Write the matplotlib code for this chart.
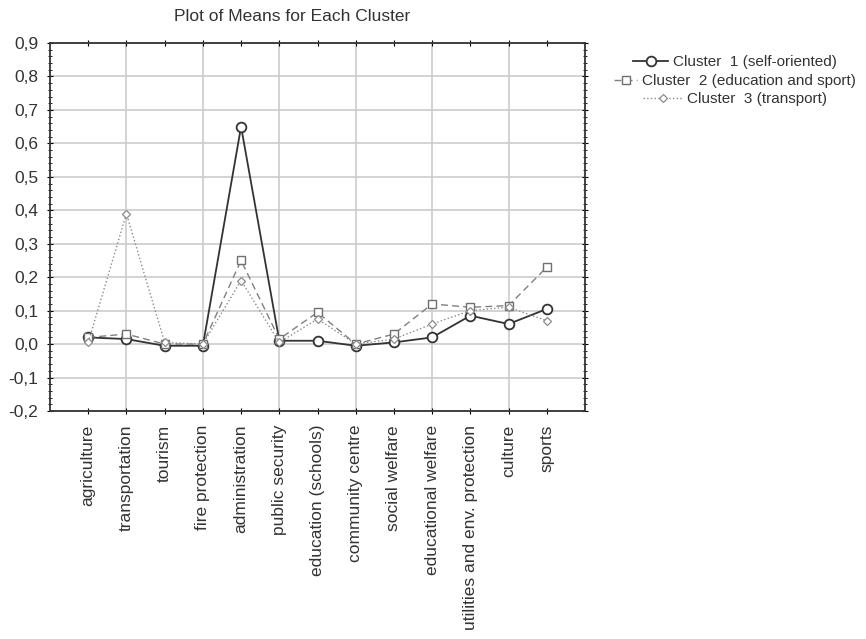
import matplotlib.pyplot as plt
from matplotlib.ticker import FuncFormatter, MultipleLocator
import numpy as np

plt.rcParams['font.family'] = ['Liberation Sans', 'DejaVu Sans']

categories = ['agriculture', 'transportation', 'tourism', 'fire protection',
              'administration', 'public security', 'education (schools)',
              'community centre', 'social welfare', 'educational welfare',
              'utilities and env. protection', 'culture', 'sports']

cluster1 = [0.02, 0.015, -0.005, -0.005, 0.65, 0.01, 0.01, -0.005, 0.005, 0.02, 0.085, 0.06, 0.105]
cluster2 = [0.02, 0.03, 0.0, 0.0, 0.25, 0.015, 0.095, 0.0, 0.03, 0.12, 0.11, 0.115, 0.23]
cluster3 = [0.005, 0.39, 0.005, 0.0, 0.19, 0.005, 0.075, 0.0, 0.015, 0.06, 0.10, 0.11, 0.07]

labels = ['Cluster  1 (self-oriented)', 'Cluster  2 (education and sport)',
          'Cluster  3 (transport)']

x = np.arange(len(categories))

fig = plt.figure(figsize=(8.66, 6.39), dpi=100)
ax = fig.add_axes([50 / 866, 1 - 411 / 639, 535 / 866, 368 / 639])

l1, = ax.plot(x, cluster1, '-', color='#333333', lw=1.3, marker='o', ms=7,
              mfc='white', mec='#333333', mew=1.3, label=labels[0])
l2, = ax.plot(x, cluster2, '--', color='#808080', lw=1.0, marker='s', ms=5.5,
              mfc='white', mec='#707070', mew=1.0, dashes=(5, 3), label=labels[1])
l3, = ax.plot(x, cluster3, ':', color='#8a8a8a', lw=1.0, marker='D', ms=4,
              mfc='white', mec='#8a8a8a', mew=0.9, label=labels[2])

ax.set_xlim(-1, 13)
ax.set_ylim(-0.2, 0.9)
ax.set_xticks(x)
ax.set_xticklabels(categories, rotation=90, fontsize=12.5, color='#333333')
ax.yaxis.set_major_locator(MultipleLocator(0.1))
ax.yaxis.set_minor_locator(MultipleLocator(0.02))
ax.yaxis.set_major_formatter(FuncFormatter(lambda v, p: ('%.1f' % v).replace('.', ',')))
ax.tick_params(axis='y', labelsize=12.5, labelcolor='#333333', direction='inout',
               length=5, right=True, pad=6)
ax.tick_params(axis='y', which='minor', direction='inout', length=3, right=True)
ax.tick_params(axis='x', direction='inout', length=4, top=True, pad=8)

# vertical grid only on every other category
for xi in x[1::2]:
    ax.axvline(xi, color='#cccccc', lw=1.2, zorder=0)
ax.grid(axis='y', color='#cccccc', lw=1.2, zorder=0)
ax.set_axisbelow(True)
for s in ax.spines.values():
    s.set_linewidth(1.3)
    s.set_color('#333333')

ax.set_title('Plot of Means for Each Cluster', fontsize=12.5, pad=16, color='#333333',
             x=0.452)

# one centred legend per cluster, like the original
for line, lab, yy, hl in zip([l1, l2, l3], labels, [62, 81, 99], [2.3, 1.5, 2.6]):
    fig.legend([line], [lab], loc='center', bbox_to_anchor=(735 / 866, 1 - yy / 639),
               frameon=False, fontsize=11, handlelength=hl, handletextpad=0.3,
               borderpad=0, labelcolor='#333333')

fig.savefig('out.png', dpi=100)
